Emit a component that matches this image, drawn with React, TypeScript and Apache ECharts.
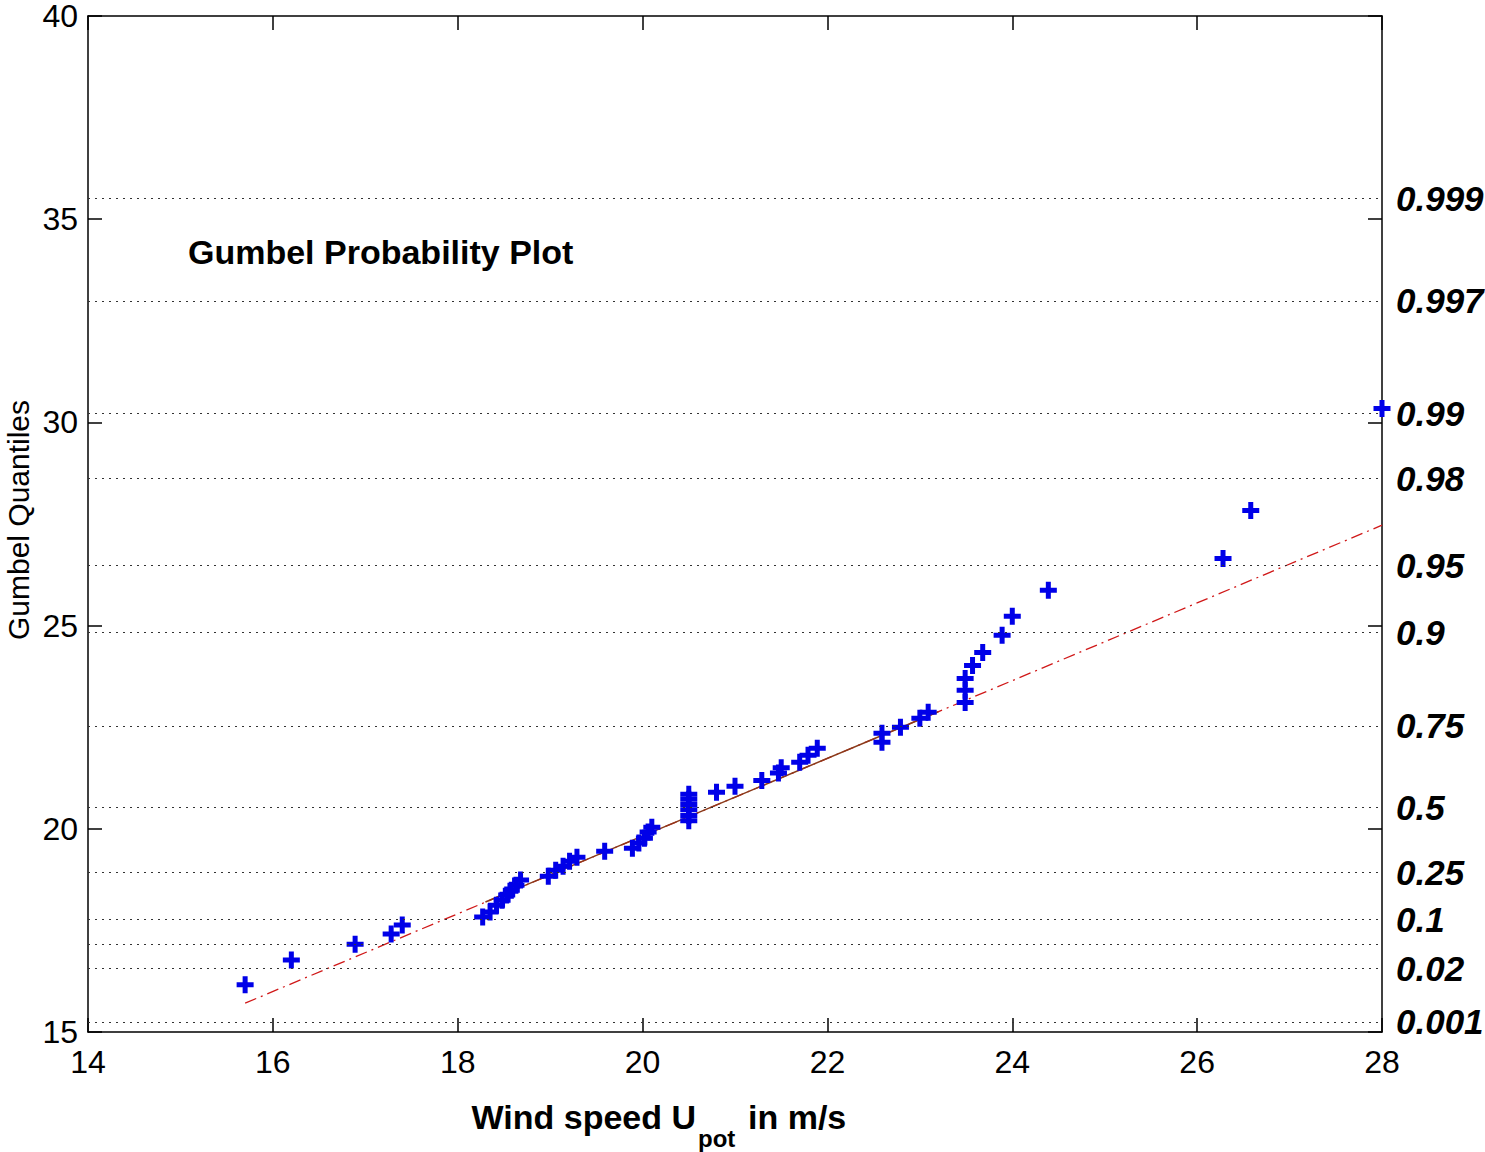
import React, { useEffect, useRef } from "react";
import * as echarts from "echarts";

const windSpeed = [
  15.7, 16.2, 16.89, 17.28, 17.4,
  18.27, 18.35, 18.42, 18.48, 18.53, 18.58, 18.63, 18.68,
  18.98, 19.06, 19.14, 19.21, 19.29,
  19.59,
  19.89, 19.96, 20.02, 20.06, 20.1,
  20.5, 20.5, 20.5, 20.5, 20.5, 20.5,
  20.8, 21.0, 21.29, 21.47, 21.5, 21.7, 21.79, 21.89,
  22.59, 22.59, 22.79, 23.0, 23.09,
  23.49, 23.49, 23.49, 23.57, 23.68, 23.89, 24.0, 24.39,
  26.28, 26.58, 28.0,
];
const gumbelQuantiles = [
  16.16, 16.77, 17.16, 17.41, 17.63,
  17.83, 17.95, 18.12, 18.24, 18.37, 18.49, 18.61, 18.74,
  18.83, 18.98, 19.08, 19.2, 19.3,
  19.45,
  19.52, 19.65, 19.77, 19.92, 20.04,
  20.2, 20.33, 20.47, 20.6, 20.73, 20.85,
  20.9, 21.05, 21.19, 21.37, 21.5, 21.64, 21.81, 21.98,
  22.13, 22.35, 22.5, 22.72, 22.87,
  23.11, 23.41, 23.7, 24.02, 24.34, 24.76, 25.23, 25.87,
  26.65, 27.83, 30.34,
];

// reference (fit) line: dash-dot over full range, solid between quartiles
const fitLineX = [15.7, 28.0];
const fitLineY = [15.71, 27.47];
const fitSolidX = [18.3, 23.2];
const fitSolidY = [18.2, 22.88];

// probability grid lines (positions in Gumbel quantile units) and labels
const probPositions = [15.25, 16.56, 17.17, 17.77, 18.93, 20.52, 22.53, 24.84, 26.49, 28.62, 30.22, 32.99, 35.51];
const probLabels = ["0.001", "0.02", "", "0.1", "0.25", "0.5", "0.75", "0.9", "0.95", "0.98", "0.99", "0.997", "0.999"];

const xTicks = [14, 16, 18, 20, 22, 24, 26, 28];
const yTicks = [15, 20, 25, 30, 35, 40];

const FONT = "Liberation Sans, Arial, sans-serif";
const PLUS = "path://M6,0 H11 V6 H17 V11 H11 V17 H6 V11 H0 V6 H6 Z";

export default function App() {
  const ref = useRef<HTMLDivElement>(null);
  useEffect(() => {
    if (!ref.current) return;
    const chart = echarts.init(ref.current, undefined, { renderer: "svg" });
    const axisCommon = {
      type: "value" as const,
      axisLine: { show: true, onZero: false, lineStyle: { color: "#000", width: 1.5 } },
      axisTick: { show: true, inside: true, length: 14, lineStyle: { color: "#000", width: 1.5 } },
      splitLine: { show: false },
    };
    chart.setOption({
      animation: false,
      backgroundColor: "#fff",
      grid: { left: 88, top: 15, right: 103, bottom: 120 },
      xAxis: [
        {
          ...axisCommon,
          min: xTicks[0],
          max: xTicks[xTicks.length - 1],
          interval: 2,
          position: "bottom",
          axisLabel: { color: "#000", fontSize: 32, fontFamily: FONT, margin: 14 },
        },
        {
          ...axisCommon,
          min: xTicks[0],
          max: xTicks[xTicks.length - 1],
          interval: 2,
          position: "top",
          axisLabel: { show: false },
        },
      ],
      yAxis: [
        {
          ...axisCommon,
          min: yTicks[0],
          max: yTicks[yTicks.length - 1],
          interval: 5,
          position: "left",
          axisLabel: { color: "#000", fontSize: 32, lineHeight: 26, fontFamily: FONT, margin: 10 },
        },
        {
          ...axisCommon,
          min: yTicks[0],
          max: yTicks[yTicks.length - 1],
          interval: 5,
          position: "right",
          axisLabel: { show: false },
        },
      ],
      series: [
        {
          type: "line",
          name: "grid",
          data: [],
          silent: true,
          markLine: {
            silent: true,
            symbol: ["none", "none"],
            animation: false,
            lineStyle: { color: "#333", type: [2, 5], width: 1.2 },
            label: {
              show: true,
              position: "end",
              distance: 14,
              color: "#000",
              fontSize: 35,
              fontStyle: "italic",
              fontWeight: "bold",
              fontFamily: FONT,
              formatter: (p: any) => probLabels[p.dataIndex] ?? "",
            },
            emphasis: { disabled: true },
            data: probPositions.map((q) => ({ yAxis: q })),
          },
        },
        {
          type: "line",
          name: "fit",
          data: fitLineX.map((x, i) => [x, fitLineY[i]]),
          showSymbol: false,
          symbol: "none",
          lineStyle: { color: "#d01818", width: 1.3, type: [12, 5, 2, 5] },
          silent: true,
          z: 3,
        },
        {
          type: "line",
          name: "fitSolid",
          data: fitSolidX.map((x, i) => [x, fitSolidY[i]]),
          showSymbol: false,
          symbol: "none",
          lineStyle: { color: "#8a3a1a", width: 1.5, type: "solid" },
          silent: true,
          z: 3,
        },
        {
          type: "scatter",
          name: "data",
          data: windSpeed.map((x, i) => [x, gumbelQuantiles[i]]),
          symbol: PLUS,
          symbolSize: 17,
          clip: false,
          itemStyle: { color: "#0000e8", opacity: 1 },
          z: 4,
        },
      ],
      graphic: [
        {
          type: "text",
          left: 188,
          top: 235,
          style: { text: "Gumbel Probability Plot", fontSize: 34, fontWeight: "bold", fontFamily: FONT, fill: "#000" },
        },
        {
          type: "text",
          x: 18,
          y: 520,
          rotation: Math.PI / 2,
          style: {
            text: "Gumbel Quantiles",
            fontSize: 30,
            fontFamily: FONT,
            fill: "#000",
            align: "center",
            verticalAlign: "middle",
          },
        },
        {
          type: "text",
          x: 696,
          y: 1117,
          style: {
            text: "Wind speed U",
            fontSize: 34,
            fontWeight: "bold",
            fontFamily: FONT,
            fill: "#000",
            align: "right",
            verticalAlign: "middle",
          },
        },
        {
          type: "text",
          x: 698,
          y: 1138,
          style: {
            text: "pot",
            fontSize: 24,
            fontWeight: "bold",
            fontFamily: FONT,
            fill: "#000",
            align: "left",
            verticalAlign: "middle",
          },
        },
        {
          type: "text",
          x: 748,
          y: 1117,
          style: {
            text: "in m/s",
            fontSize: 34,
            fontWeight: "bold",
            fontFamily: FONT,
            fill: "#000",
            align: "left",
            verticalAlign: "middle",
          },
        },
      ],
    });
    return () => chart.dispose();
  }, []);
  return (
    <div
      ref={ref}
      style={{ position: "absolute", left: 0, top: 0, width: 1485, height: 1152 }}
    />
  );
}
